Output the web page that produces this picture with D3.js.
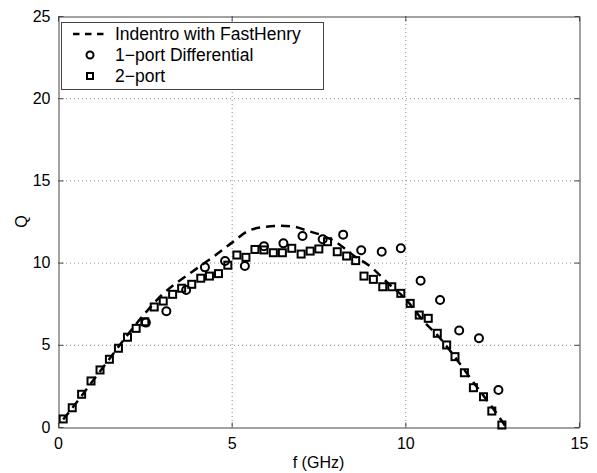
<!DOCTYPE html>
<html>
<head>
<meta charset="utf-8">
<script src="https://cdn.jsdelivr.net/npm/d3@7"></script>
<style>
  body { margin: 0; background: #fff; }
  svg text { font-family: "Liberation Sans", Arial, sans-serif; }
</style>
</head>
<body>
<svg id="chart" width="597" height="473"></svg>
<script>
// simulated curve (Indentro with FastHenry)
var simF = [0.15, 0.5, 1.0, 1.5, 2.0, 2.5, 3.0, 3.5, 4.0, 4.5, 5.0, 5.5, 6.0, 6.4, 6.8, 7.2, 7.6, 8.0, 8.5, 9.0, 9.5, 10.0, 10.5, 11.0, 11.5, 12.0, 12.5, 12.9];
var simQ = [0.45, 1.4, 2.8, 4.2, 5.6, 6.9, 8.05, 8.9, 9.65, 10.4, 11.2, 11.95, 12.18, 12.24, 12.18, 11.92, 11.66, 11.25, 10.45, 9.75, 8.75, 7.8, 6.5, 5.4, 4.05, 2.6, 1.2, 0.0];

// 1-port differential measurement
var diffF = [2.53, 3.12, 3.69, 4.23, 4.81, 5.38, 5.93, 6.49, 7.04, 7.62, 8.21, 8.73, 9.32, 9.87, 10.44, 11.0, 11.55, 12.12, 12.68];
var diffQ = [6.35, 7.04, 8.33, 9.71, 10.1, 9.79, 11.0, 11.17, 11.62, 11.42, 11.7, 10.75, 10.66, 10.87, 8.9, 7.72, 5.87, 5.4, 2.25];

// 2-port measurement
var twoF = [0.15, 0.41, 0.68, 0.95, 1.21, 1.48, 1.74, 2.0, 2.25, 2.5, 2.77, 3.03, 3.30, 3.56, 3.85, 4.11, 4.36, 4.62, 4.89, 5.15, 5.41, 5.67, 5.93, 6.2, 6.46, 6.73, 7.0, 7.26, 7.51, 7.76, 8.04, 8.31, 8.57, 8.81, 9.08, 9.35, 9.61, 9.87, 10.14, 10.4, 10.66, 10.92, 11.19, 11.43, 11.7, 11.96, 12.25, 12.49, 12.78];
var twoQ = [0.49, 1.17, 1.99, 2.8, 3.47, 4.12, 4.79, 5.46, 6.0, 6.4, 7.3, 7.66, 8.07, 8.44, 8.68, 9.05, 9.18, 9.33, 9.84, 10.46, 10.32, 10.8, 10.77, 10.6, 10.6, 10.87, 10.52, 10.7, 10.83, 11.27, 10.66, 10.4, 10.12, 9.18, 8.98, 8.53, 8.53, 8.13, 7.52, 6.81, 6.61, 5.7, 4.99, 4.28, 3.3, 2.39, 1.84, 0.97, 0.12];

var xTicks = [0, 5, 10, 15];
var yTicks = [0, 5, 10, 15, 20, 25];
var legendLabels = ["Indentro with FastHenry", "1\u2212port Differential", "2\u2212port"];

var plotL = 58, plotR = 579, plotT = 16, plotB = 427;
var svg = d3.select("#chart");

var x = d3.scaleLinear().domain([0, 15]).range([plotL, plotR]);
var y = d3.scaleLinear().domain([0, 25]).range([plotB, plotT]);

// grid
var grid = svg.append("g")
  .attr("stroke", "#888")
  .attr("stroke-width", 1)
  .attr("stroke-dasharray", "1,3");
grid.selectAll("line.gx").data(xTicks.slice(1, -1)).join("line")
  .attr("x1", d => x(d) + 0.5).attr("x2", d => x(d) + 0.5)
  .attr("y1", plotT).attr("y2", plotB);
grid.selectAll("line.gy").data(yTicks.slice(1, -1)).join("line")
  .attr("y1", d => y(d) + 0.5).attr("y2", d => y(d) + 0.5)
  .attr("x1", plotL).attr("x2", plotR);

// axes (box with inside ticks)
var axisColor = "#444";
var xb = svg.append("g").attr("transform", `translate(0,${plotB + 0.5})`)
  .call(d3.axisBottom(x).tickValues(xTicks).tickSizeInner(-5).tickSizeOuter(0).tickPadding(10));
var xt = svg.append("g").attr("transform", `translate(0,${plotT + 0.5})`)
  .call(d3.axisTop(x).tickValues(xTicks).tickSizeInner(-5).tickSizeOuter(0).tickFormat(""));
var yl = svg.append("g").attr("transform", `translate(${plotL + 0.5},0)`)
  .call(d3.axisLeft(y).tickValues(yTicks).tickSizeInner(-5).tickSizeOuter(0).tickPadding(8));
var yr = svg.append("g").attr("transform", `translate(${plotR + 0.5},0)`)
  .call(d3.axisRight(y).tickValues(yTicks).tickSizeInner(-5).tickSizeOuter(0).tickFormat(""));
[xb, xt, yl, yr].forEach(function(a) {
  a.select(".domain").attr("stroke", axisColor);
  a.selectAll(".tick line").attr("stroke", axisColor);
  a.selectAll("text").attr("font-size", 16).attr("fill", "#000")
    .attr("font-family", "'Liberation Sans', Arial, sans-serif");
});

// axis labels
svg.append("text").attr("x", (plotL + plotR) / 2).attr("y", 468)
  .attr("text-anchor", "middle").attr("font-size", 16).text("f (GHz)");
svg.append("text").attr("transform", `translate(27,${(plotT + plotB) / 2}) rotate(-90)`)
  .attr("text-anchor", "middle").attr("font-size", 16).text("Q");

// dashed simulation curve
var line = d3.line().x(d => x(d[0])).y(d => y(d[1])).curve(d3.curveMonotoneX);
svg.append("path")
  .datum(d3.zip(simF, simQ))
  .attr("d", line)
  .attr("fill", "none")
  .attr("stroke", "#000")
  .attr("stroke-width", 2.5)
  .attr("stroke-dasharray", "9,6");

// 1-port differential circles
svg.append("g").selectAll("circle")
  .data(d3.zip(diffF, diffQ))
  .join("circle")
  .attr("cx", d => x(d[0])).attr("cy", d => y(d[1]))
  .attr("r", 4)
  .attr("fill", "none").attr("stroke", "#000").attr("stroke-width", 2);

// 2-port squares
svg.append("g").selectAll("rect")
  .data(d3.zip(twoF, twoQ))
  .join("rect")
  .attr("x", d => x(d[0]) - 3.5).attr("y", d => y(d[1]) - 3.5)
  .attr("width", 7).attr("height", 7)
  .attr("fill", "none").attr("stroke", "#000").attr("stroke-width", 2);

// legend
var lg = svg.append("g");
lg.append("rect").attr("x", 61.5).attr("y", 22.5).attr("width", 262).attr("height", 67)
  .attr("fill", "#fff").attr("stroke", axisColor);
var rowY = [34, 55, 76];
lg.selectAll("text").data(legendLabels).join("text")
  .attr("x", 115).attr("y", (d, i) => rowY[i] + 6)
  .attr("font-size", 17.5)
  .text(d => d);
lg.append("line").attr("x1", 73).attr("x2", 108).attr("y1", rowY[0]).attr("y2", rowY[0])
  .attr("stroke", "#000").attr("stroke-width", 2.5).attr("stroke-dasharray", "6.5,5.5");
lg.append("circle").attr("cx", 90).attr("cy", rowY[1]).attr("r", 3.5)
  .attr("fill", "none").attr("stroke", "#000").attr("stroke-width", 2);
lg.append("rect").attr("x", 87).attr("y", rowY[2] - 3).attr("width", 6).attr("height", 6)
  .attr("fill", "none").attr("stroke", "#000").attr("stroke-width", 2);
</script>
</body>
</html>
